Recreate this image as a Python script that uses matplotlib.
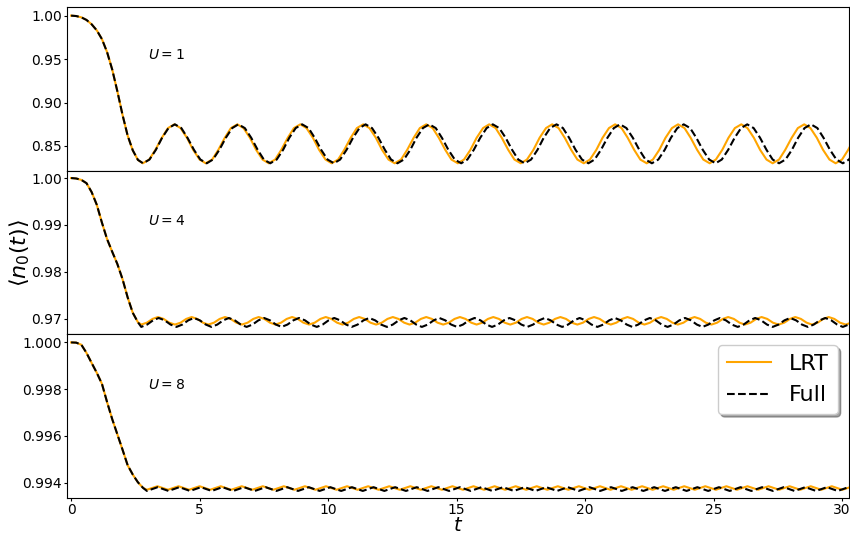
import matplotlib
matplotlib.use("Agg")
import matplotlib.pyplot as plt
from matplotlib.ticker import FormatStrFormatter

# ---------------- data ----------------
# U = 1 : initial decay (shared by both curves)
u1_t_decay = [0.0, 0.2, 0.4, 0.6, 0.8, 1.0, 1.2, 1.4, 1.6, 1.8, 2.0, 2.2, 2.4, 2.6]
u1_n_decay = [1.0, 0.9995, 0.998, 0.995, 0.990, 0.983, 0.973, 0.958, 0.938, 0.913,
              0.886, 0.862, 0.845, 0.834]

u1_lrt_t = [
    2.79, 3.04, 3.28, 3.53, 3.77, 4.02, 4.26, 4.51, 4.75, 5.00,
    5.24, 5.49, 5.73, 5.98, 6.22, 6.47, 6.71, 6.96, 7.20, 7.45,
    7.69, 7.94, 8.18, 8.43, 8.67, 8.92, 9.16, 9.41, 9.65, 9.90,
    10.14, 10.39, 10.63, 10.88, 11.12, 11.37, 11.61, 11.86, 12.10, 12.35,
    12.59, 12.84, 13.08, 13.33, 13.57, 13.82, 14.07, 14.31, 14.56, 14.80,
    15.05, 15.29, 15.54, 15.78, 16.03, 16.27, 16.52, 16.76, 17.01, 17.25,
    17.50, 17.74, 17.99, 18.23, 18.48, 18.72, 18.97, 19.21, 19.46, 19.70,
    19.95, 20.19, 20.44, 20.68, 20.93, 21.17, 21.42, 21.66, 21.91, 22.15,
    22.40, 22.64, 22.89, 23.13, 23.38, 23.62, 23.87, 24.11, 24.36, 24.60,
    24.85, 25.09, 25.34, 25.58, 25.83, 26.08, 26.32, 26.57, 26.81, 27.06,
    27.30, 27.55, 27.79, 28.04, 28.28, 28.53, 28.77, 29.02, 29.26, 29.51,
    29.75, 30.00, 30.24, 30.49]
u1_lrt_n = [
    0.8301, 0.8344, 0.8456, 0.8594, 0.8706, 0.8749, 0.8706, 0.8594, 0.8456, 0.8344,
    0.8301, 0.8344, 0.8456, 0.8594, 0.8706, 0.8749, 0.8706, 0.8594, 0.8456, 0.8344,
    0.8301, 0.8344, 0.8456, 0.8594, 0.8706, 0.8749, 0.8706, 0.8594, 0.8456, 0.8344,
    0.8301, 0.8344, 0.8456, 0.8594, 0.8706, 0.8749, 0.8706, 0.8594, 0.8456, 0.8344,
    0.8301, 0.8344, 0.8456, 0.8594, 0.8706, 0.8749, 0.8706, 0.8594, 0.8456, 0.8344,
    0.8301, 0.8344, 0.8456, 0.8594, 0.8706, 0.8749, 0.8706, 0.8594, 0.8456, 0.8344,
    0.8301, 0.8344, 0.8456, 0.8594, 0.8706, 0.8749, 0.8706, 0.8594, 0.8456, 0.8344,
    0.8301, 0.8344, 0.8456, 0.8594, 0.8706, 0.8749, 0.8706, 0.8594, 0.8456, 0.8344,
    0.8301, 0.8344, 0.8456, 0.8594, 0.8706, 0.8749, 0.8706, 0.8594, 0.8456, 0.8344,
    0.8301, 0.8344, 0.8456, 0.8594, 0.8706, 0.8749, 0.8706, 0.8594, 0.8456, 0.8344,
    0.8301, 0.8344, 0.8456, 0.8594, 0.8706, 0.8749, 0.8706, 0.8594, 0.8456, 0.8344,
    0.8301, 0.8344, 0.8456, 0.8594]

u1_full_t = [
    2.80, 3.05, 3.30, 3.54, 3.79, 4.04, 4.29, 4.53, 4.78, 5.03,
    5.28, 5.52, 5.77, 6.02, 6.27, 6.51, 6.76, 7.01, 7.26, 7.50,
    7.75, 8.00, 8.25, 8.49, 8.74, 8.99, 9.24, 9.48, 9.73, 9.98,
    10.23, 10.47, 10.72, 10.97, 11.22, 11.46, 11.71, 11.96, 12.21, 12.45,
    12.70, 12.95, 13.20, 13.44, 13.69, 13.94, 14.19, 14.43, 14.68, 14.93,
    15.18, 15.42, 15.67, 15.92, 16.17, 16.41, 16.66, 16.91, 17.16, 17.40,
    17.65, 17.90, 18.15, 18.39, 18.64, 18.89, 19.14, 19.38, 19.63, 19.88,
    20.13, 20.37, 20.62, 20.87, 21.12, 21.36, 21.61, 21.86, 22.11, 22.35,
    22.60, 22.85, 23.10, 23.34, 23.59, 23.84, 24.09, 24.33, 24.58, 24.83,
    25.08, 25.32, 25.57, 25.82, 26.07, 26.31, 26.56, 26.81, 27.06, 27.30,
    27.55, 27.80, 28.05, 28.29, 28.54, 28.79, 29.04, 29.28, 29.53, 29.78,
    30.03, 30.27, 30.52]
u1_full_n = [
    0.8301, 0.8344, 0.8456, 0.8594, 0.8706, 0.8749, 0.8706, 0.8594, 0.8456, 0.8344,
    0.8301, 0.8344, 0.8456, 0.8594, 0.8706, 0.8749, 0.8706, 0.8594, 0.8456, 0.8344,
    0.8301, 0.8344, 0.8456, 0.8594, 0.8706, 0.8749, 0.8706, 0.8594, 0.8456, 0.8344,
    0.8301, 0.8344, 0.8456, 0.8594, 0.8706, 0.8749, 0.8706, 0.8594, 0.8456, 0.8344,
    0.8301, 0.8344, 0.8456, 0.8594, 0.8706, 0.8749, 0.8706, 0.8594, 0.8456, 0.8344,
    0.8301, 0.8344, 0.8456, 0.8594, 0.8706, 0.8749, 0.8706, 0.8594, 0.8456, 0.8344,
    0.8301, 0.8344, 0.8456, 0.8594, 0.8706, 0.8749, 0.8706, 0.8594, 0.8456, 0.8344,
    0.8301, 0.8344, 0.8456, 0.8594, 0.8706, 0.8749, 0.8706, 0.8594, 0.8456, 0.8344,
    0.8301, 0.8344, 0.8456, 0.8594, 0.8706, 0.8749, 0.8706, 0.8594, 0.8456, 0.8344,
    0.8301, 0.8344, 0.8456, 0.8594, 0.8706, 0.8749, 0.8706, 0.8594, 0.8456, 0.8344,
    0.8301, 0.8344, 0.8456, 0.8594, 0.8706, 0.8749, 0.8706, 0.8594, 0.8456, 0.8344,
    0.8301, 0.8344, 0.8456]

# U = 4
u4_t_decay = [0.0, 0.2, 0.4, 0.6, 0.8, 1.0, 1.2, 1.4, 1.6, 1.8, 2.0, 2.2, 2.4, 2.6]
u4_n_decay = [1.0, 0.9999, 0.9996, 0.9989, 0.9970, 0.9943, 0.9905, 0.9870, 0.9843,
              0.9817, 0.9785, 0.9746, 0.9713, 0.9693]

u4_lrt_t = [
    2.73, 2.95, 3.17, 3.38, 3.60, 3.82, 4.04, 4.26, 4.48, 4.69, 4.91, 5.13,
    5.34, 5.56, 5.78, 5.99, 6.21, 6.43, 6.65, 6.87, 7.09, 7.30, 7.52, 7.74,
    7.95, 8.17, 8.39, 8.60, 8.82, 9.04, 9.26, 9.48, 9.70, 9.91, 10.13, 10.35,
    10.56, 10.78, 11.00, 11.21, 11.43, 11.65, 11.87, 12.09, 12.31, 12.52, 12.74, 12.96,
    13.17, 13.39, 13.61, 13.82, 14.04, 14.26, 14.48, 14.70, 14.92, 15.13, 15.35, 15.57,
    15.78, 16.00, 16.22, 16.43, 16.65, 16.87, 17.09, 17.31, 17.53, 17.74, 17.96, 18.18,
    18.39, 18.61, 18.83, 19.04, 19.26, 19.48, 19.70, 19.92, 20.14, 20.35, 20.57, 20.79,
    21.00, 21.22, 21.44, 21.65, 21.87, 22.09, 22.31, 22.53, 22.75, 22.96, 23.18, 23.40,
    23.61, 23.83, 24.05, 24.26, 24.48, 24.70, 24.92, 25.14, 25.36, 25.57, 25.79, 26.01,
    26.22, 26.44, 26.66, 26.87, 27.09, 27.31, 27.53, 27.75, 27.97, 28.18, 28.40, 28.62,
    28.83, 29.05, 29.27, 29.48, 29.70, 29.92, 30.14, 30.36, 30.58, 30.79]
u4_lrt_n = [
    0.9688, 0.9692, 0.9700, 0.9704, 0.9700, 0.9692, 0.9688, 0.9692, 0.9700, 0.9704, 0.9700, 0.9692,
    0.9688, 0.9692, 0.9700, 0.9704, 0.9700, 0.9692, 0.9688, 0.9692, 0.9700, 0.9704, 0.9700, 0.9692,
    0.9688, 0.9692, 0.9700, 0.9704, 0.9700, 0.9692, 0.9688, 0.9692, 0.9700, 0.9704, 0.9700, 0.9692,
    0.9688, 0.9692, 0.9700, 0.9704, 0.9700, 0.9692, 0.9688, 0.9692, 0.9700, 0.9704, 0.9700, 0.9692,
    0.9688, 0.9692, 0.9700, 0.9704, 0.9700, 0.9692, 0.9688, 0.9692, 0.9700, 0.9704, 0.9700, 0.9692,
    0.9688, 0.9692, 0.9700, 0.9704, 0.9700, 0.9692, 0.9688, 0.9692, 0.9700, 0.9704, 0.9700, 0.9692,
    0.9688, 0.9692, 0.9700, 0.9704, 0.9700, 0.9692, 0.9688, 0.9692, 0.9700, 0.9704, 0.9700, 0.9692,
    0.9688, 0.9692, 0.9700, 0.9704, 0.9700, 0.9692, 0.9688, 0.9692, 0.9700, 0.9704, 0.9700, 0.9692,
    0.9688, 0.9692, 0.9700, 0.9704, 0.9700, 0.9692, 0.9688, 0.9692, 0.9700, 0.9704, 0.9700, 0.9692,
    0.9688, 0.9692, 0.9700, 0.9704, 0.9700, 0.9692, 0.9688, 0.9692, 0.9700, 0.9704, 0.9700, 0.9692,
    0.9688, 0.9692, 0.9700, 0.9704, 0.9700, 0.9692, 0.9688, 0.9692, 0.9700, 0.9704]

u4_full_t = [
    2.73, 2.96, 3.19, 3.41, 3.64, 3.87, 4.10, 4.33, 4.56, 4.78, 5.01, 5.24,
    5.46, 5.69, 5.92, 6.14, 6.37, 6.60, 6.83, 7.06, 7.29, 7.51, 7.74, 7.97,
    8.19, 8.42, 8.65, 8.87, 9.10, 9.33, 9.56, 9.79, 10.02, 10.24, 10.47, 10.70,
    10.92, 11.15, 11.38, 11.60, 11.83, 12.06, 12.29, 12.52, 12.75, 12.97, 13.20, 13.43,
    13.65, 13.88, 14.11, 14.33, 14.56, 14.79, 15.02, 15.25, 15.48, 15.70, 15.93, 16.16,
    16.38, 16.61, 16.84, 17.06, 17.29, 17.52, 17.75, 17.98, 18.21, 18.43, 18.66, 18.89,
    19.11, 19.34, 19.57, 19.79, 20.02, 20.25, 20.48, 20.71, 20.94, 21.16, 21.39, 21.62,
    21.84, 22.07, 22.30, 22.52, 22.75, 22.98, 23.21, 23.44, 23.67, 23.89, 24.12, 24.35,
    24.57, 24.80, 25.03, 25.25, 25.48, 25.71, 25.94, 26.17, 26.40, 26.62, 26.85, 27.08,
    27.30, 27.53, 27.76, 27.98, 28.21, 28.44, 28.67, 28.90, 29.13, 29.35, 29.58, 29.81,
    30.03, 30.26, 30.49, 30.71]
u4_full_n = [
    0.9683, 0.9688, 0.9697, 0.9702, 0.9697, 0.9688, 0.9683, 0.9688, 0.9697, 0.9702, 0.9697, 0.9688,
    0.9683, 0.9688, 0.9697, 0.9702, 0.9697, 0.9688, 0.9683, 0.9688, 0.9697, 0.9702, 0.9697, 0.9688,
    0.9683, 0.9688, 0.9697, 0.9702, 0.9697, 0.9688, 0.9683, 0.9688, 0.9697, 0.9702, 0.9697, 0.9688,
    0.9683, 0.9688, 0.9697, 0.9702, 0.9697, 0.9688, 0.9683, 0.9688, 0.9697, 0.9702, 0.9697, 0.9688,
    0.9683, 0.9688, 0.9697, 0.9702, 0.9697, 0.9688, 0.9683, 0.9688, 0.9697, 0.9702, 0.9697, 0.9688,
    0.9683, 0.9688, 0.9697, 0.9702, 0.9697, 0.9688, 0.9683, 0.9688, 0.9697, 0.9702, 0.9697, 0.9688,
    0.9683, 0.9688, 0.9697, 0.9702, 0.9697, 0.9688, 0.9683, 0.9688, 0.9697, 0.9702, 0.9697, 0.9688,
    0.9683, 0.9688, 0.9697, 0.9702, 0.9697, 0.9688, 0.9683, 0.9688, 0.9697, 0.9702, 0.9697, 0.9688,
    0.9683, 0.9688, 0.9697, 0.9702, 0.9697, 0.9688, 0.9683, 0.9688, 0.9697, 0.9702, 0.9697, 0.9688,
    0.9683, 0.9688, 0.9697, 0.9702, 0.9697, 0.9688, 0.9683, 0.9688, 0.9697, 0.9702, 0.9697, 0.9688,
    0.9683, 0.9688, 0.9697, 0.9702]

# U = 8
u8_t_decay = [0.0, 0.2, 0.4, 0.6, 0.8, 1.0, 1.2, 1.4, 1.6, 1.8, 2.0, 2.2, 2.4, 2.6, 2.8]
u8_n_decay = [1.0, 0.99999, 0.99990, 0.99955, 0.99912, 0.99870, 0.99823, 0.99745,
              0.99672, 0.99607, 0.99542, 0.99475, 0.99435, 0.99402, 0.99378]

u8_lrt_t = [
    2.95, 3.36, 3.77, 4.18, 4.59, 5.00, 5.41, 5.82, 6.23, 6.64,
    7.05, 7.46, 7.87, 8.28, 8.69, 9.10, 9.51, 9.92, 10.33, 10.74,
    11.15, 11.56, 11.97, 12.38, 12.79, 13.20, 13.61, 14.02, 14.43, 14.84,
    15.25, 15.66, 16.07, 16.48, 16.89, 17.30, 17.71, 18.12, 18.53, 18.94,
    19.35, 19.76, 20.17, 20.58, 20.99, 21.40, 21.81, 22.22, 22.63, 23.04,
    23.45, 23.86, 24.27, 24.68, 25.09, 25.50, 25.91, 26.32, 26.73, 27.14,
    27.55, 27.96, 28.37, 28.78, 29.19, 29.60, 30.01, 30.42]
u8_lrt_n = [
    0.99370, 0.99385, 0.99370, 0.99385, 0.99370, 0.99385, 0.99370, 0.99385, 0.99370, 0.99385,
    0.99370, 0.99385, 0.99370, 0.99385, 0.99370, 0.99385, 0.99370, 0.99385, 0.99370, 0.99385,
    0.99370, 0.99385, 0.99370, 0.99385, 0.99370, 0.99385, 0.99370, 0.99385, 0.99370, 0.99385,
    0.99370, 0.99385, 0.99370, 0.99385, 0.99370, 0.99385, 0.99370, 0.99385, 0.99370, 0.99385,
    0.99370, 0.99385, 0.99370, 0.99385, 0.99370, 0.99385, 0.99370, 0.99385, 0.99370, 0.99385,
    0.99370, 0.99385, 0.99370, 0.99385, 0.99370, 0.99385, 0.99370, 0.99385, 0.99370, 0.99385,
    0.99370, 0.99385, 0.99370, 0.99385, 0.99370, 0.99385, 0.99370, 0.99385]

u8_full_t = [
    2.95, 3.37, 3.79, 4.21, 4.63, 5.05, 5.47, 5.89, 6.31, 6.73,
    7.15, 7.57, 7.99, 8.41, 8.83, 9.25, 9.67, 10.09, 10.51, 10.93,
    11.35, 11.77, 12.19, 12.61, 13.03, 13.45, 13.87, 14.29, 14.71, 15.13,
    15.55, 15.97, 16.39, 16.81, 17.23, 17.65, 18.07, 18.49, 18.91, 19.33,
    19.75, 20.17, 20.59, 21.01, 21.43, 21.85, 22.27, 22.69, 23.11, 23.53,
    23.95, 24.37, 24.79, 25.21, 25.63, 26.05, 26.47, 26.89, 27.31, 27.73,
    28.15, 28.57, 28.99, 29.41, 29.83, 30.25, 30.67]
u8_full_n = [
    0.99365, 0.99381, 0.99365, 0.99381, 0.99365, 0.99381, 0.99365, 0.99381, 0.99365, 0.99381,
    0.99365, 0.99381, 0.99365, 0.99381, 0.99365, 0.99381, 0.99365, 0.99381, 0.99365, 0.99381,
    0.99365, 0.99381, 0.99365, 0.99381, 0.99365, 0.99381, 0.99365, 0.99381, 0.99365, 0.99381,
    0.99365, 0.99381, 0.99365, 0.99381, 0.99365, 0.99381, 0.99365, 0.99381, 0.99365, 0.99381,
    0.99365, 0.99381, 0.99365, 0.99381, 0.99365, 0.99381, 0.99365, 0.99381, 0.99365, 0.99381,
    0.99365, 0.99381, 0.99365, 0.99381, 0.99365, 0.99381, 0.99365, 0.99381, 0.99365, 0.99381,
    0.99365, 0.99381, 0.99365, 0.99381, 0.99365, 0.99381, 0.99365]

panel_labels = ["$U=1$", "$U=4$", "$U=8$"]
label_y = [0.95, 0.99, 0.998]
y_ticks = [[0.85, 0.90, 0.95, 1.00], [0.97, 0.98, 0.99, 1.00], [0.994, 0.996, 0.998, 1.000]]
y_fmt = ["%.2f", "%.2f", "%.3f"]
y_lims = [(0.8215, 1.0096), (0.96674, 1.00155), (0.99336, 1.00035)]
x_ticks = [0, 5, 10, 15, 20, 25, 30]

series = [
    (u1_t_decay + u1_lrt_t, u1_n_decay + u1_lrt_n, u1_t_decay + u1_full_t, u1_n_decay + u1_full_n),
    (u4_t_decay + u4_lrt_t, u4_n_decay + u4_lrt_n, u4_t_decay + u4_full_t, u4_n_decay + u4_full_n),
    (u8_t_decay + u8_lrt_t, u8_n_decay + u8_lrt_n, u8_t_decay + u8_full_t, u8_n_decay + u8_full_n),
]

# ---------------- figure ----------------
fig, axes = plt.subplots(3, 1, sharex=True, figsize=(8.5, 5.35), dpi=100)
fig.subplots_adjust(left=0.0785, right=0.9988, top=0.9864, bottom=0.0697, hspace=0)

for i, ax in enumerate(axes):
    tl, nl, tf, nf = series[i]
    ax.plot(tl, nl, color="orange", lw=1.5, label="LRT")
    ax.plot(tf, nf, color="black", ls="--", lw=1.5, label="Full")
    ax.text(3, label_y[i], panel_labels[i], fontsize=10)
    ax.set_ylim(*y_lims[i])
    ax.set_yticks(y_ticks[i])
    ax.yaxis.set_major_formatter(FormatStrFormatter(y_fmt[i]))
    ax.tick_params(labelsize=10, length=2.5, pad=1.0)

axes[2].set_xlim(-0.17, 30.27)
axes[2].set_xticks(x_ticks)
axes[2].set_xlabel("$t$", fontsize=14)
axes[2].xaxis.set_label_coords(0.5, -0.109)
axes[1].set_ylabel(r"$\langle n_0(t)\rangle$", fontsize=16)
axes[1].yaxis.set_label_coords(-0.044, 0.5)
axes[2].legend(loc="upper right", fontsize=16, shadow=True)

fig.savefig("out.png", dpi=100)
